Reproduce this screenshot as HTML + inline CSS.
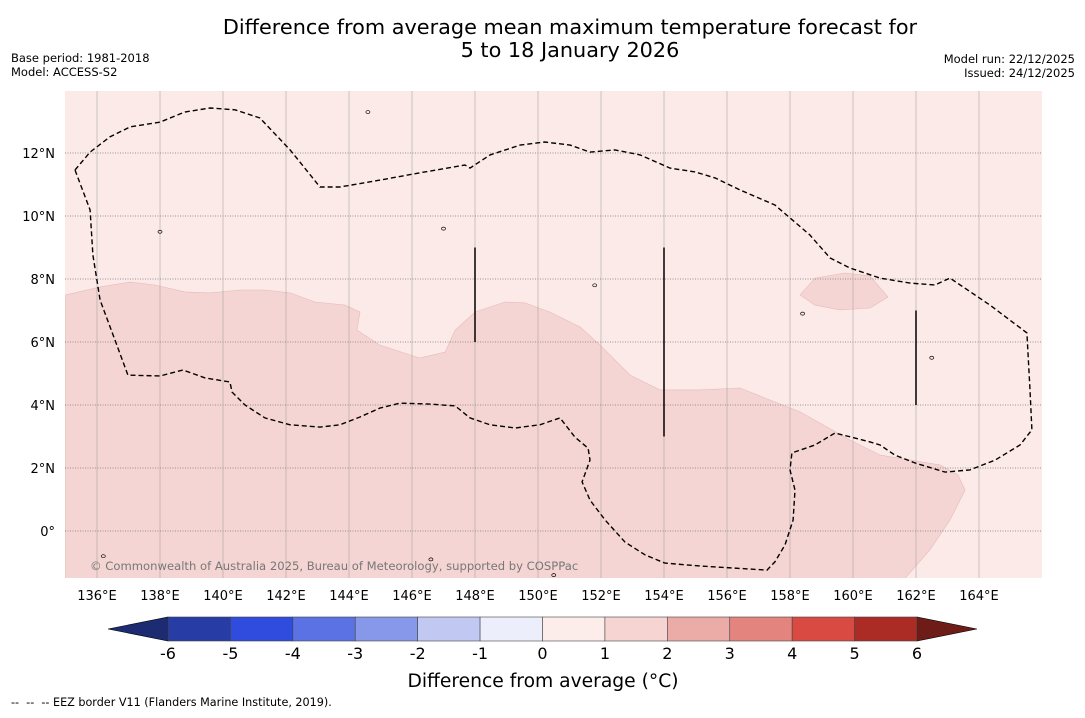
<!DOCTYPE html>
<html><head><meta charset="utf-8"><style>
body{margin:0;background:#fff;font-family:"Liberation Sans","DejaVu Sans",sans-serif}
svg text{font-family:"DejaVu Sans","Liberation Sans",sans-serif}
</style></head><body>
<svg id="chart" width="1085" height="713" viewBox="0 0 1085 713" xmlns="http://www.w3.org/2000/svg">
<rect width="1085" height="713" fill="#fff"/>
<text x="570" y="34" font-size="20.8" text-anchor="middle">Difference from average mean maximum temperature forecast for</text>
<text x="570" y="57" font-size="20.8" text-anchor="middle">5 to 18 January 2026</text>
<text x="11" y="62" font-size="11.5">Base period: 1981-2018</text>
<text x="11" y="76" font-size="11.5">Model: ACCESS-S2</text>
<text x="1075" y="63" font-size="11.5" text-anchor="end">Model run: 22/12/2025</text>
<text x="1075" y="77" font-size="11.5" text-anchor="end">Issued: 24/12/2025</text>
<g id="map"></g>
<g id="cbar"></g>
<text x="543" y="687" font-size="18.7" text-anchor="middle">Difference from average (°C)</text>
<text x="11" y="706" font-size="11.2" xml:space="preserve" style="white-space:pre">--  --  -- EEZ border V11 (Flanders Marine Institute, 2019).</text>
</svg>
<script>
const lonTicks=[136,138,140,142,144,146,148,150,152,154,156,158,160,162,164];
const latTicks=[0,2,4,6,8,10,12];
const cbarLevels=[-6,-5,-4,-3,-2,-1,0,1,2,3,4,5,6];
const cbarColors=["#283ca6","#2f4cdf","#5a72e4","#8798ea","#c1c9f3","#eceefb","#fcecea","#f5d4d2","#ebaca8","#e4847f","#d94a43","#ab2b25"];
const anomalyLon=[135,136.1,137.05,137.84,138.79,139.59,140.54,141.33,142.13,142.92,143.87,144.35,144.25,144.98,146.25,147.05,147.37,148.0,148.95,149.59,150.38,151.33,151.97,152.92,153.87,155.14,156.41,157.21,158.32,159.9,160.86,162.76,163.33,163.56,163.08,162.44,161.65,135];
const anomalyLat=[7.49,7.75,7.9,7.81,7.59,7.56,7.65,7.65,7.56,7.27,7.17,6.95,6.38,5.9,5.49,5.68,6.38,6.95,7.27,7.24,6.95,6.48,5.9,4.95,4.48,4.48,4.54,4.22,3.78,2.89,2.41,2.1,1.78,1.3,0.35,-0.6,-1.5,-1.5];
const blobLon=[158.32,158.79,159.75,160.54,161.11,160.54,159.59,158.79];
const blobLat=[7.49,8.03,8.19,8.1,7.43,7.08,7.02,7.17];
const eezLon=[135.30,135.78,136.41,137.05,138.0,138.79,139.59,140.38,141.17,142.13,143.08,143.71,144.98,146.25,147.68,147.84,148.48,149.43,150.22,151.02,151.65,152.44,153.24,154.19,154.98,155.62,156.41,157.52,158.0,158.63,159.27,159.9,160.86,161.81,162.6,163.08,164.35,165.52,165.62,165.68,165.3,164.51,163.71,162.92,161.97,161.33,160.86,160.54,159.43,158.79,158.06,158.0,158.16,158.1,157.84,157.52,157.27,155.14,154.03,153.4,152.76,152.13,151.65,151.4,151.65,151.59,151.17,150.7,150.06,149.27,148.48,147.84,147.37,146.57,145.62,144.98,144.35,143.71,143.08,142.13,141.33,140.7,140.29,140.22,139.43,138.73,138.0,136.98,136.57,136.1,135.87,135.78,135.30];
const eezLat=[11.46,12.03,12.51,12.83,12.98,13.3,13.43,13.37,13.11,12.1,10.92,10.92,11.14,11.37,11.62,11.52,11.94,12.25,12.35,12.25,12.03,12.1,11.94,11.52,11.4,11.21,10.83,10.35,9.94,9.4,8.67,8.35,8.03,7.87,7.81,8.03,7.17,6.29,4.48,3.21,2.73,2.25,1.94,1.87,2.16,2.41,2.73,2.83,3.11,2.73,2.48,1.94,1.3,0.35,-0.44,-0.98,-1.24,-1.11,-1.02,-0.76,-0.35,0.35,0.98,1.56,2.25,2.63,2.98,3.59,3.37,3.27,3.37,3.59,3.97,4.03,4.06,3.9,3.62,3.37,3.3,3.37,3.59,4.0,4.41,4.73,4.86,5.11,4.92,4.95,6.06,7.33,8.76,10.19,11.46];
const segLon=[148,154,162];
const segLat0=[9,9,7];
const segLat1=[6,3,4];
const islandLon=[144.6,136.2,138.0,146.6,151.8,158.4,162.5,147.0,150.5];
const islandLat=[13.3,-0.8,9.5,-0.9,7.8,6.9,5.5,9.6,-1.4];

const NS="http://www.w3.org/2000/svg";
const X0=65,X1=1042,Y0=91,Y1=578;
const xS=lon=>97+(lon-136)*31.5;
const yS=lat=>531-lat*31.5;
const cx=v=>168+(v+6)*(917-168)/12;
function mk(tag,attrs,parent){const e=document.createElementNS(NS,tag);for(const k in attrs)e.setAttribute(k,attrs[k]);parent.appendChild(e);return e;}
const map=document.getElementById('map');
const clip=mk('clipPath',{id:'mc'},map);mk('rect',{x:X0,y:Y0,width:X1-X0,height:Y1-Y0},clip);
let r=mk('rect',{x:X0,y:Y0,width:X1-X0,height:Y1-Y0,fill:'#fbeae8'},map);


const g=mk('g',{'clip-path':'url(#mc)'},map);
const poly=(lo,la)=>lo.map((v,i)=>xS(v).toFixed(1)+','+yS(la[i]).toFixed(1)).join(' ');
let p=mk('polygon',{points:poly(anomalyLon,anomalyLat),fill:'#f5d5d3',stroke:'#e3bcb9','stroke-width':0.6},g);


p=mk('polygon',{points:poly(blobLon,blobLat),fill:'#f5d5d3',stroke:'#e3bcb9','stroke-width':0.6},g);


lonTicks.forEach(l=>{
 const ln=mk('line',{x1:xS(l),x2:xS(l),y1:Y0,y2:Y1,stroke:'#999','stroke-width':0.7,'stroke-opacity':0.7},g);
 
 
 const t=mk('text',{x:xS(l),y:Y1+22,'font-size':13,'text-anchor':'middle'},map);t.textContent=l+'°E';
 
 
});
latTicks.forEach(l=>{
 const ln=mk('line',{x1:X0,x2:X1,y1:yS(l),y2:yS(l),stroke:'#777','stroke-width':0.7,'stroke-dasharray':'1,1.5'},g);
 
 
 const t=mk('text',{x:X0-10,y:yS(l)+5,'font-size':13,'text-anchor':'end'},map);t.textContent=l===0?'0°':l+'°N';
 
 
});
islandLon.forEach((l,i)=>{
 const c=mk('ellipse',{cx:xS(l),cy:yS(islandLat[i]),rx:2,ry:1.5,fill:'none',stroke:'#000','stroke-width':0.7},g);
 
 
});
p=mk('polyline',{points:poly(eezLon,eezLat),fill:'none',stroke:'#000','stroke-width':1.4,'stroke-dasharray':'5,3'},g);


segLon.forEach((l,i)=>{
 const s=mk('line',{x1:xS(l),x2:xS(l),y1:yS(segLat0[i]),y2:yS(segLat1[i]),stroke:'#000','stroke-width':1.5},g);
 
 
});
const cp=mk('text',{x:90,y:570,'font-size':11.6,fill:'#777'},map);
cp.textContent='© Commonwealth of Australia 2025, Bureau of Meteorology, supported by COSPPac';



const cb=document.getElementById('cbar');
const cy0=617,cy1=641;
let tri=mk('polygon',{points:`${cx(-6)},${cy0} ${cx(-6)},${cy1} 108,${(cy0+cy1)/2}`,fill:'#1c2b72',stroke:'#000','stroke-width':0.6},cb);


tri=mk('polygon',{points:`${cx(6)},${cy0} ${cx(6)},${cy1} 977,${(cy0+cy1)/2}`,fill:'#6e1c18',stroke:'#000','stroke-width':0.6},cb);


cbarColors.forEach((c,i)=>{
 const a=cbarLevels[i],b=cbarLevels[i+1];
 const rr=mk('rect',{x:cx(a),y:cy0,width:cx(b)-cx(a),height:cy1-cy0,fill:c,stroke:'#444','stroke-width':0.6},cb);
 
 
});
cbarLevels.forEach(v=>{
 const t=mk('text',{x:cx(v),y:659,'font-size':16,'text-anchor':'middle'},cb);t.textContent=v;
 
 
});
</script>
</body></html>
